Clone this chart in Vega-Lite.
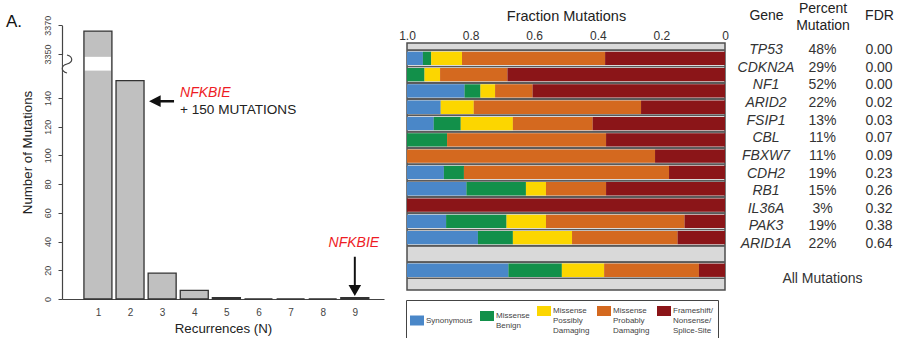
{
  "$schema": "https://vega.github.io/schema/vega-lite/v6.json",
  "padding": {"left": 5, "top": 1, "right": 0, "bottom": 0},
  "spacing": 13,
  "resolve": {"scale": {"color": "independent"}, "legend": {"color": "independent"}},
  "config": {
    "font": "Liberation Sans",
    "view": {"stroke": null},
    "axis": {"grid": false, "titleFontWeight": "normal", "labelFlush": false, "labelOverlap": false},
    "title": {"fontWeight": "normal"}
  },
  "datasets": {
    "recurrence": [
      {"N": 1, "count": 3366},
      {"N": 2, "count": 152, "note": "NFKBIE", "note2": "+ 150 MUTATIONS"},
      {"N": 3, "count": 18},
      {"N": 4, "count": 6},
      {"N": 5, "count": 1},
      {"N": 6, "count": 0},
      {"N": 7, "count": 0},
      {"N": 8, "count": 0},
      {"N": 9, "count": 1, "note": "NFKBIE"}
    ],
    "fractions": [
      {"gene": "TP53", "category": "Synonymous", "frac": 0.050},
      {"gene": "TP53", "category": "Missense Benign", "frac": 0.026},
      {"gene": "TP53", "category": "Missense Possibly Damaging", "frac": 0.097},
      {"gene": "TP53", "category": "Missense Probably Damaging", "frac": 0.450},
      {"gene": "TP53", "category": "Frameshift/ Nonsense/ Splice-Site", "frac": 0.377},
      {"gene": "CDKN2A", "category": "Missense Benign", "frac": 0.055},
      {"gene": "CDKN2A", "category": "Missense Possibly Damaging", "frac": 0.049},
      {"gene": "CDKN2A", "category": "Missense Probably Damaging", "frac": 0.212},
      {"gene": "CDKN2A", "category": "Frameshift/ Nonsense/ Splice-Site", "frac": 0.684},
      {"gene": "NF1", "category": "Synonymous", "frac": 0.181},
      {"gene": "NF1", "category": "Missense Benign", "frac": 0.050},
      {"gene": "NF1", "category": "Missense Possibly Damaging", "frac": 0.046},
      {"gene": "NF1", "category": "Missense Probably Damaging", "frac": 0.118},
      {"gene": "NF1", "category": "Frameshift/ Nonsense/ Splice-Site", "frac": 0.605},
      {"gene": "ARID2", "category": "Synonymous", "frac": 0.106},
      {"gene": "ARID2", "category": "Missense Possibly Damaging", "frac": 0.104},
      {"gene": "ARID2", "category": "Missense Probably Damaging", "frac": 0.526},
      {"gene": "ARID2", "category": "Frameshift/ Nonsense/ Splice-Site", "frac": 0.264},
      {"gene": "FSIP1", "category": "Synonymous", "frac": 0.084},
      {"gene": "FSIP1", "category": "Missense Benign", "frac": 0.085},
      {"gene": "FSIP1", "category": "Missense Possibly Damaging", "frac": 0.164},
      {"gene": "FSIP1", "category": "Missense Probably Damaging", "frac": 0.251},
      {"gene": "FSIP1", "category": "Frameshift/ Nonsense/ Splice-Site", "frac": 0.416},
      {"gene": "CBL", "category": "Missense Benign", "frac": 0.126},
      {"gene": "CBL", "category": "Missense Probably Damaging", "frac": 0.500},
      {"gene": "CBL", "category": "Frameshift/ Nonsense/ Splice-Site", "frac": 0.374},
      {"gene": "FBXW7", "category": "Missense Probably Damaging", "frac": 0.780},
      {"gene": "FBXW7", "category": "Frameshift/ Nonsense/ Splice-Site", "frac": 0.220},
      {"gene": "CDH2", "category": "Synonymous", "frac": 0.116},
      {"gene": "CDH2", "category": "Missense Benign", "frac": 0.063},
      {"gene": "CDH2", "category": "Missense Probably Damaging", "frac": 0.645},
      {"gene": "CDH2", "category": "Frameshift/ Nonsense/ Splice-Site", "frac": 0.176},
      {"gene": "RB1", "category": "Synonymous", "frac": 0.187},
      {"gene": "RB1", "category": "Missense Benign", "frac": 0.187},
      {"gene": "RB1", "category": "Missense Possibly Damaging", "frac": 0.063},
      {"gene": "RB1", "category": "Missense Probably Damaging", "frac": 0.189},
      {"gene": "RB1", "category": "Frameshift/ Nonsense/ Splice-Site", "frac": 0.374},
      {"gene": "IL36A", "category": "Frameshift/ Nonsense/ Splice-Site", "frac": 1.0},
      {"gene": "PAK3", "category": "Synonymous", "frac": 0.123},
      {"gene": "PAK3", "category": "Missense Benign", "frac": 0.190},
      {"gene": "PAK3", "category": "Missense Possibly Damaging", "frac": 0.124},
      {"gene": "PAK3", "category": "Missense Probably Damaging", "frac": 0.436},
      {"gene": "PAK3", "category": "Frameshift/ Nonsense/ Splice-Site", "frac": 0.127},
      {"gene": "ARID1A", "category": "Synonymous", "frac": 0.223},
      {"gene": "ARID1A", "category": "Missense Benign", "frac": 0.110},
      {"gene": "ARID1A", "category": "Missense Possibly Damaging", "frac": 0.186},
      {"gene": "ARID1A", "category": "Missense Probably Damaging", "frac": 0.332},
      {"gene": "ARID1A", "category": "Frameshift/ Nonsense/ Splice-Site", "frac": 0.149},
      {"gene": "All Mutations", "category": "Synonymous", "frac": 0.319},
      {"gene": "All Mutations", "category": "Missense Benign", "frac": 0.168},
      {"gene": "All Mutations", "category": "Missense Possibly Damaging", "frac": 0.133},
      {"gene": "All Mutations", "category": "Missense Probably Damaging", "frac": 0.298},
      {"gene": "All Mutations", "category": "Frameshift/ Nonsense/ Splice-Site", "frac": 0.082}
    ],
    "genes": [
      {"gene": "TP53", "pct": 0.48, "fdr": 0.00},
      {"gene": "CDKN2A", "pct": 0.29, "fdr": 0.00},
      {"gene": "NF1", "pct": 0.52, "fdr": 0.00},
      {"gene": "ARID2", "pct": 0.22, "fdr": 0.02},
      {"gene": "FSIP1", "pct": 0.13, "fdr": 0.03},
      {"gene": "CBL", "pct": 0.11, "fdr": 0.07},
      {"gene": "FBXW7", "pct": 0.11, "fdr": 0.09},
      {"gene": "CDH2", "pct": 0.19, "fdr": 0.23},
      {"gene": "RB1", "pct": 0.15, "fdr": 0.26},
      {"gene": "IL36A", "pct": 0.03, "fdr": 0.32},
      {"gene": "PAK3", "pct": 0.19, "fdr": 0.38},
      {"gene": "ARID1A", "pct": 0.22, "fdr": 0.64},
      {"gene": "All Mutations"}
    ]
  },
  "hconcat": [
    {
      "width": 322,
      "height": 256,
      "title": {"text": "A.", "anchor": "start", "frame": "bounds", "fontSize": 17, "color": "#111", "dx": -14, "offset": -16},
      "data": {"name": "recurrence"},
      "encoding": {
        "x": {"field": "N", "type": "quantitative",
              "scale": {"domain": [0.037, 9.753], "nice": false, "zero": false},
              "axis": {"values": [1, 2, 3, 4, 5, 6, 7, 8, 9], "ticks": false, "labelFontSize": 10, "labelColor": "#444",
                       "labelPadding": 8, "domainColor": "#444", "domainWidth": 1.2,
                       "title": "Recurrences (N)", "titleFontSize": 13.3, "titleColor": "#222", "titlePadding": 4}},
        "y": {"field": "count", "type": "quantitative",
              "scale": {"domain": [0, 163.6, 3343, 3370], "range": [256, 21, 21, -17.7], "nice": false, "zero": false},
              "axis": {"values": [0, 20, 40, 60, 80, 100, 120, 140, 3350, 3370], "format": "d", "labelAngle": 270, "labelAlign": "center",
                       "labelBaseline": "bottom", "labelFontSize": 9, "labelColor": "#444", "labelPadding": 6,
                       "tickSize": 4, "tickColor": "#444", "domainColor": "#444", "domainWidth": 1.2,
                       "title": "Number of Mutations", "titleFontSize": 13.3, "titleColor": "#222", "titlePadding": 9, "titleY": 109}}
      },
      "layer": [
        {"mark": {"type": "bar", "width": 28, "fill": "#c0c0c0", "stroke": "#333", "strokeWidth": 1.3}},
        {"transform": [{"filter": "datum.count > 163.6"}],
         "mark": {"type": "bar", "width": 26, "fill": "white", "stroke": null},
         "encoding": {"y": {"datum": 159, "type": "quantitative"}, "y2": {"datum": 3348}}},
        {"transform": [{"filter": "datum.count > 163.6"}],
         "mark": {"type": "point", "shape": "M-0.45,-1H0.45V1H-0.45Z", "size": 324, "filled": true, "fill": "white", "stroke": null, "opacity": 1},
         "encoding": {"x": {"datum": 0.037, "type": "quantitative"}, "y": {"datum": 1000, "type": "quantitative"}}},
        {"transform": [{"filter": "datum.count > 163.6"}],
         "mark": {"type": "point", "shape": "M0,-1C0.7,-0.8 0.7,-0.2 0,0C-0.7,0.2 -0.7,0.8 0,1", "size": 324, "filled": false, "stroke": "#444", "strokeWidth": 1.2, "opacity": 1},
         "encoding": {"x": {"datum": 0.037, "type": "quantitative"}, "y": {"datum": 1000, "type": "quantitative"}}},
        {"transform": [{"filter": "datum.N == 2"}],
         "mark": {"type": "point", "shape": "M-1,0L-0.07,-0.47L-0.07,-0.1L1,-0.1L1,0.1L-0.07,0.1L-0.07,0.47Z", "size": 625, "filled": true, "fill": "#111", "stroke": null, "opacity": 1, "xOffset": 31.5, "yOffset": 20.5}},
        {"transform": [{"filter": "datum.N == 2"}],
         "mark": {"type": "text", "align": "left", "baseline": "middle", "dx": 50, "dy": 12, "fontSize": 14, "fontStyle": "italic", "color": "#ee1c25"},
         "encoding": {"text": {"field": "note"}}},
        {"transform": [{"filter": "datum.N == 2"}],
         "mark": {"type": "text", "align": "left", "baseline": "middle", "dx": 50, "dy": 29, "fontSize": 13.6, "color": "#222"},
         "encoding": {"text": {"field": "note2"}}},
        {"transform": [{"filter": "datum.N == 9"}],
         "mark": {"type": "point", "shape": "M0,1L-0.32,0.44L-0.05,0.44L-0.05,-1L0.05,-1L0.05,0.44L0.32,0.44Z", "size": 1545, "filled": true, "fill": "#111", "stroke": null, "opacity": 1, "yOffset": -21.2}},
        {"transform": [{"filter": "datum.N == 9"}],
         "mark": {"type": "text", "align": "center", "baseline": "middle", "dx": -1, "dy": -54.6, "fontSize": 14, "fontStyle": "italic", "color": "#ee1c25"},
         "encoding": {"text": {"field": "note"}}}
      ]
    },
    {
      "spacing": 7,
      "resolve": {"scale": {"color": "independent"}, "legend": {"color": "independent"}},
      "hconcat": [
        {
          "width": 318,
          "height": 247,
          "view": {"fill": "#d9d9d9", "stroke": "#4d4d4d", "strokeWidth": 1.5},
          "data": {"name": "fractions"},
          "transform": [
            {"calculate": "indexof(['Synonymous', 'Missense Benign', 'Missense Possibly Damaging', 'Missense Probably Damaging', 'Frameshift/ Nonsense/ Splice-Site'], datum.category)", "as": "rank"}
          ],
          "layer": [
            {"transform": [{"filter": "datum.gene == 'All Mutations'"}],
             "mark": {"type": "bar", "fillOpacity": 0, "stroke": "#3a3a3a", "strokeWidth": 1},
             "encoding": {
               "x": {"field": "frac", "type": "quantitative", "stack": "zero",
                     "scale": {"domain": [0, 1], "reverse": true, "nice": false, "zero": true},
                     "axis": {"orient": "top", "values": [0, 0.2, 0.4, 0.6, 0.8, 1],
                              "labelExpr": "datum.value == 0 ? '0' : format(datum.value, '.1f')",
                              "labelFontSize": 12, "labelColor": "#333", "ticks": false, "labelPadding": 8, "labelBaseline": "middle",
                              "domain": false, "title": "Fraction Mutations", "titleFontSize": 14.5, "titleColor": "#222", "titlePadding": 5.5}},
               "order": {"field": "rank", "type": "quantitative", "sort": "descending"},
               "color": {"field": "category", "type": "nominal",
                         "sort": ["Synonymous", "Missense Benign", "Missense Possibly Damaging", "Missense Probably Damaging", "Frameshift/ Nonsense/ Splice-Site"],
                         "scale": {"domain": ["Synonymous", "Missense Benign", "Missense Possibly Damaging", "Missense Probably Damaging", "Frameshift/ Nonsense/ Splice-Site"],
                                   "range": ["#4a87c8", "#12904a", "#fcd600", "#d4691f", "#8b1518"]},
                         "legend": {"title": null, "orient": "none", "legendX": -1, "legendY": 257, "direction": "horizontal", "columns": 5,
                                    "symbolType": "M-1,-0.714H1V0.714H-1Z", "symbolSize": 196, "symbolStrokeWidth": 0,
                                    "labelFontSize": 8, "labelColor": "#444", "labelExpr": "split(datum.label, ' ')", "labelOffset": 2,
                                    "labelLimit": 200, "labelBaseline": "middle", "columnPadding": 7, "padding": 4,
                                    "strokeColor": "#444", "fillColor": "white",
                                    "encode": {"symbols": {"update": {"fillOpacity": {"value": 1}, "strokeWidth": {"value": 0}}},
                                               "legend": {"update": {"strokeWidth": {"value": 1.6}}}}}}
             }},
            {"mark": {"type": "rule", "color": "#5a5a5a", "strokeWidth": 1, "yOffset": -1.5},
             "encoding": {"y": {"field": "gene", "type": "nominal", "bandPosition": 0,
                                "scale": {"domain": ["TP53", "CDKN2A", "NF1", "ARID2", "FSIP1", "CBL", "FBXW7", "CDH2", "RB1", "IL36A", "PAK3", "ARID1A", " ", "All Mutations"],
                                          "paddingInner": 0.184, "paddingOuter": 0.669, "align": 0.4}, "axis": null}}},
            {"mark": {"type": "rule", "color": "#5a5a5a", "strokeWidth": 1, "yOffset": 1.5},
             "encoding": {"y": {"field": "gene", "type": "nominal", "bandPosition": 1}}},
            {"mark": {"type": "bar"},
             "encoding": {
               "y": {"field": "gene", "type": "nominal"},
               "x": {"field": "frac", "type": "quantitative", "stack": "zero"},
               "order": {"field": "rank", "type": "quantitative", "sort": "descending"},
               "color": {"field": "category", "type": "nominal",
                         "sort": ["Synonymous", "Missense Benign", "Missense Possibly Damaging", "Missense Probably Damaging", "Frameshift/ Nonsense/ Splice-Site"]}
             }}
          ]
        },
        {
          "width": 113,
          "height": 247,
          "data": {"name": "genes"},
          "encoding": {
            "y": {"field": "gene", "type": "nominal",
                  "scale": {"domain": ["TP53", "CDKN2A", "NF1", "ARID2", "FSIP1", "CBL", "FBXW7", "CDH2", "RB1", "IL36A", "PAK3", "ARID1A", " ", "All Mutations"],
                            "paddingInner": 0.184, "paddingOuter": 0.669, "align": 0.4}, "axis": null}
          },
          "layer": [
            {"transform": [{"filter": "isValid(datum.pct)"}],
             "mark": {"type": "text", "fontSize": 14, "fontStyle": "italic", "color": "#333", "baseline": "middle"},
             "encoding": {
               "x": {"datum": "Gene", "type": "nominal",
                     "scale": {"domain": ["Gene", "Percent Mutation", "FDR"], "padding": 0},
                     "axis": {"orient": "top", "domain": false, "ticks": false, "labelAngle": 0, "labelFontSize": 14, "labelColor": "#222",
                              "labelPadding": {"condition": {"test": "datum.value == 'Percent Mutation'", "value": 35}, "value": 27.5},
                              "labelBaseline": "middle", "labelLineHeight": 17,
                              "labelExpr": "datum.value == 'Percent Mutation' ? ['Percent', 'Mutation'] : datum.value", "title": null}},
               "text": {"field": "gene"}}},
            {"transform": [{"filter": "isValid(datum.pct)"}],
             "mark": {"type": "text", "fontSize": 14, "color": "#333", "baseline": "middle"},
             "encoding": {"x": {"datum": "Percent Mutation", "type": "nominal"}, "text": {"field": "pct", "format": ".0%"}}},
            {"transform": [{"filter": "isValid(datum.pct)"}],
             "mark": {"type": "text", "fontSize": 14, "color": "#333", "baseline": "middle"},
             "encoding": {"x": {"datum": "FDR", "type": "nominal"}, "text": {"field": "fdr", "format": ".2f"}}},
            {"transform": [{"filter": "!isValid(datum.pct)"}],
             "mark": {"type": "text", "fontSize": 14, "color": "#333", "baseline": "middle"},
             "encoding": {"x": {"datum": "Percent Mutation", "type": "nominal"}, "text": {"field": "gene"}}}
          ]
        }
      ]
    }
  ]
}
